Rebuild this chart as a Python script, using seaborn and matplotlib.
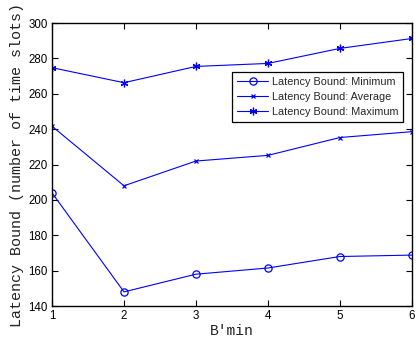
import matplotlib
matplotlib.use("Agg")
import matplotlib.pyplot as plt
import seaborn as sns
import pandas as pd

b_min = [1, 2, 3, 4, 5, 6]
lat_min = [204.0, 148.0, 158.0, 161.5, 168.0, 168.8]
lat_avg = [241.7, 208.0, 222.0, 225.2, 235.3, 238.6]
lat_max = [274.8, 266.3, 275.5, 277.2, 285.7, 291.3]
series_names = ["Latency Bound: Minimum", "Latency Bound: Average", "Latency Bound: Maximum"]
y_ticks = [140, 160, 180, 200, 220, 240, 260, 280, 300]

sns.set_style("ticks")
plt.rcParams['font.family'] = ['Liberation Sans', 'DejaVu Sans']

df = pd.concat([
    pd.DataFrame({"x": b_min, "y": vals, "series": name})
    for name, vals in zip(series_names, [lat_min, lat_avg, lat_max])
])

fig = plt.figure(figsize=(4.16, 3.45), dpi=100)
ax = fig.add_axes([0.125, 0.113, 0.865, 0.82])

blue = "#0000ff"
markers = {series_names[0]: "o", series_names[1]: "x", series_names[2]: (6, 2, 0)}
sizes = {series_names[0]: 5.2, series_names[1]: 3.5, series_names[2]: 5.5}
for name in series_names:
    sub = df[df["series"] == name]
    sns.lineplot(data=sub, x="x", y="y", ax=ax, color=blue, marker=markers[name],
                 markersize=sizes[name], markerfacecolor="none", markeredgecolor=blue,
                 markeredgewidth=0.9, linewidth=0.8, label=name)

ax.set_xlim(1, 6)
ax.set_ylim(140, 300)
ax.set_xticks(b_min)
ax.set_yticks(y_ticks)
ax.tick_params(direction="in", top=True, right=True, length=4, width=0.8, labelsize=8.3,
               colors="black", pad=3)
for s in ax.spines.values():
    s.set_linewidth(1.0)
    s.set_color("black")

ax.set_xlabel("B′min", family=["Liberation Mono", "DejaVu Sans Mono"], fontsize=10.5, labelpad=1, color="#222222")
ax.set_ylabel("Latency Bound (number of time slots)", family=["Liberation Mono", "DejaVu Sans Mono"],
              fontsize=10.8, labelpad=3, color="#222222")

leg = ax.legend(loc="upper left", bbox_to_anchor=(0.5, 0.827), fontsize=7.8, frameon=True,
                fancybox=False, edgecolor="black", framealpha=1, borderpad=0.45,
                labelspacing=0.45, handlelength=2.9, handletextpad=0.35, borderaxespad=0)
leg.get_frame().set_linewidth(0.9)

fig.savefig("out.png", dpi=100)
